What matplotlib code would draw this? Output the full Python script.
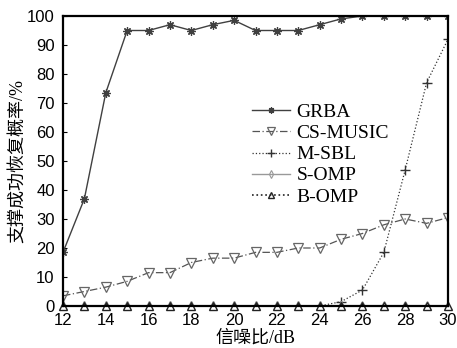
import matplotlib.pyplot as plt
import numpy as np

snr = np.arange(12, 31)
grba = [18.5, 37, 73.5, 95, 95, 97, 95, 97, 98.5, 95, 95, 95, 97, 99, 100, 100, 100, 100, 100]
cs_music = [3.5, 5, 6.5, 8.5, 11.5, 11.5, 15, 16.5, 16.5, 18.5, 18.5, 20, 20, 23, 25, 28, 30, 28.5, 30.5]
m_sbl = [0, 0, 0, 0, 0, 0, 0, 0, 0, 0, 0, 0, 0, 1.5, 5.5, 18.5, 47, 77, 92]
s_omp = [0] * 19
b_omp = [0] * 19

fig = plt.figure(figsize=(4.57, 3.48), dpi=100)
ax = fig.add_axes([63 / 457, 1 - 306 / 348, 385 / 457, 290 / 348])

ax.plot(snr, grba, color="#404040", lw=1.0, marker=(8, 2, 0), ms=6, mew=0.9, label="GRBA")
ax.plot(snr, cs_music, color="#555555", lw=0.9, ls=(0, (6, 2, 1, 2)), marker="v", ms=7,
        mfc="none", mec="#666666", mew=0.9, label="CS-MUSIC")
ax.plot(snr, m_sbl, color="#333333", lw=0.9, ls=":", marker="+", ms=7, mew=1.0, label="M-SBL")
ax.plot(snr, s_omp, color="#999999", lw=1.0, marker="d", ms=5, mfc="none", mew=0.8, label="S-OMP")
ax.plot(snr, b_omp, color="#222222", lw=1.2, ls=":", marker="^", ms=6, mfc="none", mew=1.0,
        label="B-OMP", clip_on=False)

ax.set_xlim(12, 30)
ax.set_ylim(0, 100)
ax.set_xticks(np.arange(12, 31, 2))
ax.set_yticks(np.arange(0, 101, 10))
for lab in ax.get_xticklabels() + ax.get_yticklabels():
    lab.set_family("Liberation Sans")
    lab.set_fontsize(12)
ax.tick_params(direction="in", length=3, width=0.8)
ax.tick_params(axis="x", pad=5)
ax.tick_params(axis="y", pad=6)
for s in ax.spines.values():
    s.set_linewidth(1.6)

cjk = ["Liberation Serif", "Noto Sans CJK SC"]
ax.set_xlabel("信噪比/dB", family=cjk, fontsize=13, labelpad=1)
ax.set_ylabel("支撑成功恢复概率/%", family=cjk, fontsize=13, labelpad=0)

leg = ax.legend(loc="upper left", bbox_to_anchor=(0.47, 0.725), frameon=False,
                prop={"family": "Liberation Serif", "size": 14}, handlelength=1.95,
                handletextpad=0.36, labelspacing=0.18, borderaxespad=0, markerscale=0.75)

fig.savefig("out.png", dpi=100)
